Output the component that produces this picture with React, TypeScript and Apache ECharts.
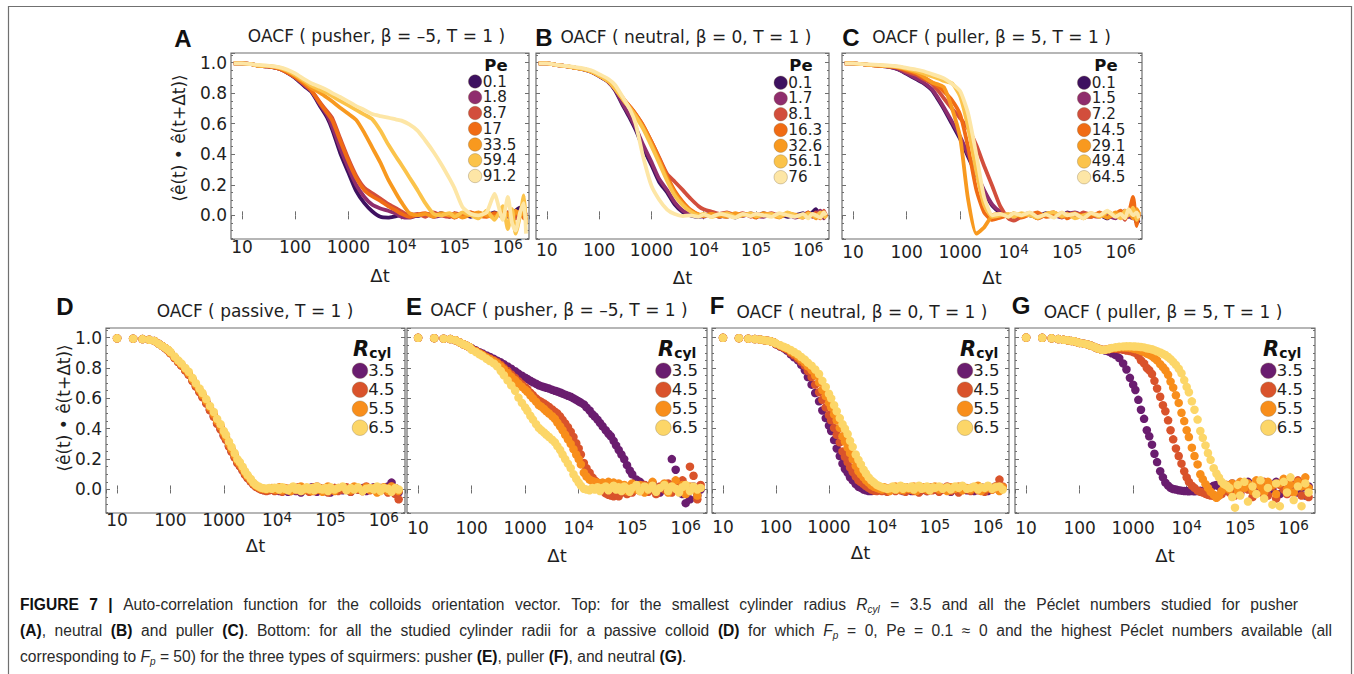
import React, { useEffect, useRef } from "react";
import * as echarts from "echarts";

// ---------- sample times ----------
const TIMES_TOP = [7, 10, 15, 20, 30, 50, 70, 100, 150, 200, 300, 400, 500, 700, 1000, 1400, 2000, 2800, 4000, 5600, 8000, 10000, 14000, 20000, 28000, 40000, 56000, 80000, 100000, 140000, 200000, 280000, 400000, 560000, 800000, 1000000, 1200000, 1400000, 1700000, 2000000, 2200000];
const TIMES_BOTTOM = [10, 20, 30, 40, 50, 60, 70, 80, 90, 100, 120, 140, 160, 190, 220, 260, 300, 350, 400, 470, 550, 650, 750, 870, 1000, 1100, 1250, 1400, 1600, 1800, 2000, 2250, 2500, 2800, 3200, 3600, 4000, 4500, 5000, 5600, 6300, 7100, 8000, 9000, 10000, 11000, 12500, 14000, 16000, 18000, 20000, 22500, 25000, 28000, 32000, 36000, 40000, 45000, 50000, 56000, 63000, 71000, 80000, 90000, 100000, 120000, 140000, 170000, 200000, 240000, 280000, 330000, 400000, 470000, 550000, 650000, 750000, 870000, 1000000, 1200000, 1400000, 1650000, 1900000];

// ---------- legend labels ----------
const PE_A = ["0.1", "1.8", "8.7", "17", "33.5", "59.4", "91.2"];
const PE_B = ["0.1", "1.7", "8.1", "16.3", "32.6", "56.1", "76"];
const PE_C = ["0.1", "1.5", "7.2", "14.5", "29.1", "49.4", "64.5"];
const RCYL = ["3.5", "4.5", "5.5", "6.5"];

// ---------- panel A : pusher ----------
const A_01 = [.995,.995,.99,.98,.975,.96,.935,.90,.845,.81,.71,.64,.56,.41,.28,.16,.08,.027,-.01,-.015,-.005,0,.01,-.005,.01,0,.015,-.01,.005,.01,-.01,.015,0,.02,-.01,.02,0,.03,.05,.01,.02];
const A_18 = [.995,.995,.99,.98,.975,.96,.937,.905,.85,.815,.72,.655,.58,.44,.31,.20,.12,.07,.045,.03,.01,-.01,-.015,0,.01,-.01,0,.01,-.005,.015,0,-.01,.01,0,.02,-.01,.02,0,.03,-.01,.02];
const A_87 = [.995,.995,.99,.98,.975,.96,.937,.905,.86,.82,.735,.68,.635,.505,.37,.26,.18,.145,.11,.075,.045,.025,0,.01,-.01,.02,0,-.01,.015,0,.02,-.005,.01,-.01,.02,0,.01,-.02,.02,0,-.01];
const A_17 = [.995,.995,.99,.98,.975,.96,.937,.905,.858,.818,.73,.67,.62,.49,.355,.245,.165,.125,.095,.06,.03,.01,-.01,.005,.015,-.005,.01,0,-.015,.01,.02,0,-.01,.015,0,.02,-.01,.01,.025,-.02,.01];
const A_335 = [.995,.995,.99,.98,.978,.965,.945,.915,.87,.835,.80,.77,.745,.705,.665,.625,.54,.445,.345,.235,.14,.085,.015,0,.01,-.01,.015,0,.01,-.015,.005,.02,0,-.01,.02,.005,-.02,.03,0,.02,-.03];
const A_594 = [.995,.995,.99,.98,.978,.967,.948,.92,.88,.85,.82,.80,.78,.75,.72,.69,.66,.63,.555,.465,.38,.33,.25,.165,.08,.01,0,.015,-.01,.02,0,-.02,.03,-.03,.06,-.09,.04,-.12,0,.13,-.06];
const A_912 = [.995,.995,.99,.985,.98,.97,.955,.93,.89,.865,.84,.82,.80,.775,.745,.715,.69,.663,.65,.64,.627,.62,.595,.555,.49,.415,.335,.24,.175,.055,.01,0,.02,.14,-.03,.12,-.05,-.1,.02,.08,-.12];

// ---------- panel B : neutral ----------
const B_01 = [.995,.995,.985,.98,.97,.955,.94,.912,.873,.82,.705,.627,.56,.44,.33,.22,.15,.07,.02,0,-.01,0,.01,-.01,.005,-.015,.01,0,-.01,.015,-.005,.01,-.01,0,.015,-.01,.02,.04,-.01,.02,0];
const B_17 = [.995,.995,.985,.98,.97,.955,.94,.913,.875,.825,.715,.64,.575,.46,.35,.24,.165,.085,.03,.005,-.005,-.01,.01,0,-.01,.01,-.005,.015,0,-.01,.01,0,.01,-.015,0,.02,-.01,.01,.03,-.02,.01];
const B_81 = [.995,.995,.985,.98,.97,.957,.942,.915,.878,.834,.757,.706,.663,.586,.483,.38,.27,.22,.165,.11,.06,.04,.025,.01,.02,0,.015,-.01,.01,0,.015,-.01,.01,0,-.015,.01,0,.02,-.01,.03,-.01];
const B_163 = [.995,.995,.985,.98,.97,.957,.942,.915,.878,.834,.757,.706,.663,.586,.483,.376,.256,.16,.088,.036,.006,0,.01,-.01,.015,-.005,.01,0,-.015,.01,.005,-.01,.015,0,-.01,.02,-.005,.01,-.02,.015,0];
const B_326 = [.995,.995,.985,.98,.97,.957,.942,.915,.878,.832,.752,.70,.655,.575,.47,.36,.24,.145,.075,.03,.005,-.005,.01,0,-.01,.015,0,.01,-.01,.015,0,-.015,.01,.005,-.01,.015,0,-.02,.01,.02,-.01];
const B_561 = [.995,.995,.985,.98,.97,.957,.942,.915,.877,.83,.748,.695,.648,.565,.455,.345,.225,.13,.065,.025,0,.01,-.01,.005,.015,-.01,0,.015,-.005,0,.01,-.01,.02,0,-.015,.01,.005,-.01,.02,0,-.02];
const B_76 = [.995,.995,.985,.98,.974,.963,.95,.925,.893,.855,.76,.685,.60,.38,.194,.104,.038,.008,-.005,0,-.01,.005,-.01,.01,0,-.015,.01,-.005,.01,0,-.01,.015,0,-.01,.01,-.02,.01,0,-.015,.02,0];

// ---------- panel C : puller ----------
const C_01 = [.995,.995,.99,.985,.98,.97,.955,.926,.892,.868,.818,.75,.694,.60,.50,.386,.266,.157,.062,.02,0,-.005,.01,0,-.01,.015,0,-.01,.02,0,-.015,.01,.005,-.02,.015,0,.02,-.01,.01,-.05,-.03];
const C_15 = [.995,.995,.99,.985,.98,.97,.957,.93,.897,.873,.825,.76,.705,.615,.515,.40,.28,.165,.07,.025,0,-.01,.005,.015,-.005,0,.01,-.015,.005,.02,0,-.01,.015,0,-.02,.01,.03,0,-.02,.01,0];
const C_72 = [.995,.995,.99,.985,.98,.975,.965,.94,.92,.895,.86,.81,.765,.70,.636,.57,.46,.325,.19,.06,-.02,-.035,-.01,.01,-.02,.005,.02,-.01,.015,-.015,.02,0,-.01,.025,-.005,.015,-.03,.02,0,.03,-.01];
const C_145 = [.995,.995,.99,.985,.98,.975,.967,.95,.93,.905,.87,.84,.81,.755,.66,.45,.17,.02,-.03,-.015,0,.01,-.015,.005,.02,-.01,0,.015,-.02,.01,0,-.01,.02,-.015,.01,.03,-.02,.01,.12,-.07,.02];
const C_291 = [.995,.995,.99,.985,.98,.975,.968,.955,.935,.912,.87,.855,.838,.704,.51,.11,-.12,-.08,0,.01,-.01,.015,-.005,.01,-.02,.01,.02,-.01,0,.015,-.02,.01,.005,-.015,.02,0,-.01,.03,-.02,.04,.01];
const C_494 = [.995,.995,.99,.987,.983,.978,.972,.96,.945,.93,.91,.895,.88,.865,.78,.58,.29,.07,-.01,0,.01,-.01,.015,0,-.015,.01,.02,-.005,.01,-.02,0,.015,-.01,.02,0,-.02,.03,0,.05,-.03,.02];
const C_645 = [.995,.995,.99,.988,.985,.98,.975,.965,.955,.945,.925,.91,.897,.862,.813,.67,.40,.12,0,.01,-.01,.015,0,.02,-.01,.005,-.015,.02,0,.01,-.02,.015,0,.03,-.01,.01,-.02,.04,0,.02,-.02];

// ---------- panel D : passive ----------
const D_35 = [.995,.993,.99,.986,.978,.96,.945,.93,.916,.898,.867,.84,.818,.786,.758,.717,.681,.645,.612,.571,.526,.483,.437,.40,.357,.33,.287,.252,.214,.178,.156,.128,.10,.077,.054,.034,.02,.01,.002,-.004,-.008,-.003,.002,-.008,0,-.01,.01,-.005,-.015,.005,0,-.01,.01,-.02,.005,0,-.01,.015,-.005,-.015,.01,0,-.01,.005,-.02,.01,0,-.005,.01,-.015,.005,0,.01,-.01,.005,.015,-.005,.01,0,.02,.045,.01,-.02];
const D_45 = [.995,.993,.99,.986,.978,.96,.945,.93,.915,.897,.865,.838,.815,.783,.755,.713,.677,.64,.607,.566,.521,.478,.432,.395,.352,.326,.282,.248,.21,.174,.153,.126,.097,.075,.052,.032,.018,.008,0,-.005,-.01,-.005,0,-.01,-.005,.01,-.015,0,.005,-.01,.01,-.005,.015,-.01,0,.01,-.015,.005,-.01,.02,0,-.01,.01,-.02,.005,.01,-.01,0,.015,-.015,.01,0,-.01,.02,-.005,.01,-.015,.005,.01,-.02,.02,-.03,-.065];
const D_55 = [.995,.993,.99,.986,.978,.96,.945,.932,.918,.9,.87,.845,.823,.792,.765,.725,.69,.655,.623,.583,.54,.497,.452,.415,.372,.345,.30,.266,.227,.19,.168,.14,.11,.086,.062,.04,.025,.015,.008,.004,0,.005,.01,0,0,.015,-.005,.01,0,-.01,.015,.005,0,.02,-.005,.01,.005,-.01,.015,0,.01,-.015,.005,.02,0,-.01,.01,.015,0,-.005,.02,.005,-.01,.015,0,.01,-.02,.005,.015,-.01,.02,.005,-.01];
const D_65 = [.995,.993,.99,.986,.978,.96,.945,.932,.92,.905,.875,.85,.83,.80,.775,.735,.70,.665,.635,.595,.55,.51,.465,.43,.385,.36,.315,.28,.24,.20,.18,.15,.12,.095,.07,.045,.03,.02,.012,.008,.005,.01,.005,.012,.01,0,.015,.005,-.005,.01,.02,0,.01,-.01,.005,.015,0,.01,-.005,.02,.005,0,.01,-.01,.015,0,.01,.02,-.005,.01,0,.015,-.01,.005,.01,0,.02,-.01,.01,.005,-.015,.01,0];

// ---------- panel E : pusher, all radii ----------
const E_35 = [.998,.996,.993,.99,.982,.968,.956,.947,.938,.93,.916,.904,.895,.882,.872,.86,.848,.837,.825,.81,.795,.779,.763,.749,.736,.728,.716,.706,.696,.686,.68,.674,.669,.664,.656,.65,.645,.638,.631,.624,.617,.61,.60,.59,.58,.572,.56,.54,.52,.496,.48,.46,.438,.416,.39,.367,.35,.32,.29,.26,.23,.20,.16,.125,.10,.065,.05,.03,.02,.04,.01,-.02,.03,-.01,.20,.13,.01,-.03,-.09,-.065,.02,-.04,0];
const E_45 = [.998,.996,.993,.99,.982,.968,.956,.947,.938,.925,.912,.898,.888,.873,.862,.85,.838,.82,.80,.78,.757,.735,.713,.692,.673,.66,.637,.62,.60,.585,.577,.566,.555,.543,.527,.512,.50,.48,.458,.435,.41,.38,.345,.305,.27,.23,.175,.14,.11,.08,.06,.045,.02,-.01,-.025,-.035,-.04,-.045,-.03,-.045,-.02,0,-.03,.01,-.02,.02,-.01,.03,-.015,.01,-.03,.02,0,.04,-.02,.03,.01,.06,-.01,.15,.09,-.065,.03];
const E_55 = [.998,.996,.993,.99,.982,.968,.956,.947,.938,.925,.91,.895,.885,.868,.857,.844,.83,.81,.79,.767,.743,.72,.697,.676,.657,.643,.62,.60,.578,.555,.545,.53,.514,.50,.482,.465,.44,.415,.39,.36,.33,.30,.265,.23,.20,.165,.11,.085,.065,.055,.05,.045,.04,.045,.035,.05,.03,.045,.02,.04,.01,.03,-.01,.02,.04,0,.03,-.02,.02,.05,-.01,.01,.04,-.02,.02,.06,0,.03,-.03,.02,0,-.04,.01];
const E_65 = [.998,.996,.993,.99,.982,.968,.956,.947,.938,.92,.905,.89,.878,.86,.845,.83,.81,.78,.752,.718,.685,.65,.605,.57,.54,.518,.485,.46,.43,.405,.39,.375,.36,.345,.327,.31,.285,.26,.23,.20,.17,.14,.10,.07,.045,.025,.005,0,-.005,.01,0,.015,-.01,.01,.02,-.005,.01,.025,0,.015,-.01,.02,.005,-.015,.01,.03,-.01,.02,0,.025,-.015,.01,.03,-.01,.02,.005,-.02,.015,.03,-.01,.02,0,.01];

// ---------- panel F : neutral, all radii ----------
const F_35 = [.998,.996,.993,.99,.987,.983,.979,.975,.97,.955,.94,.93,.915,.89,.87,.85,.82,.785,.74,.69,.635,.58,.52,.47,.42,.385,.325,.27,.22,.17,.135,.11,.08,.06,.035,.018,.01,0,-.005,-.01,-.01,-.005,0,.005,0,.01,-.01,.005,.015,-.005,.01,0,-.01,.015,.005,-.01,.01,0,.02,-.005,.01,-.01,.005,.015,0,-.01,.01,.005,-.015,.01,0,.02,-.005,.01,-.01,.005,.015,0,-.01,.01,.02,-.005,.01];
const F_45 = [.998,.996,.993,.99,.987,.983,.979,.975,.97,.957,.943,.933,.922,.90,.883,.862,.84,.815,.78,.74,.69,.64,.59,.54,.49,.455,.405,.36,.31,.25,.215,.18,.145,.115,.085,.06,.048,.035,.022,.01,0,-.008,-.01,-.005,-.01,.005,-.015,.01,0,-.01,.015,-.005,.01,-.015,0,.01,-.01,.005,-.02,.01,0,-.01,.015,-.005,.01,-.015,0,.02,-.01,.005,-.02,.01,0,-.01,.015,-.005,.01,-.015,.02,0,.01,.065,.02];
const F_55 = [.998,.996,.993,.99,.987,.983,.979,.975,.97,.96,.947,.937,.928,.91,.895,.875,.855,.835,.81,.785,.75,.705,.655,.615,.57,.54,.495,.455,.405,.35,.315,.275,.24,.20,.155,.12,.10,.08,.06,.045,.028,.018,.01,.005,0,.015,.005,-.01,.01,.02,0,.01,-.005,.015,.005,0,.02,-.01,.01,.005,.015,0,-.005,.01,.02,0,.01,-.01,.015,.005,.02,-.005,.01,0,.015,.025,-.01,.005,.01,0,.02,-.01,.015];
const F_65 = [.998,.996,.993,.99,.987,.983,.979,.975,.97,.962,.95,.94,.932,.918,.905,.89,.872,.855,.835,.815,.79,.76,.715,.675,.63,.60,.555,.515,.47,.43,.40,.365,.32,.28,.23,.195,.165,.13,.105,.08,.06,.045,.03,.022,.015,.01,.005,.008,.02,0,.012,.025,.005,.015,.01,.02,0,.015,.025,.005,.01,.02,-.005,.015,.01,.02,.005,.015,0,.02,.01,.025,.005,.01,.02,0,.015,.01,.025,.005,.015,.02,0];

// ---------- panel G : puller, all radii ----------
const G_35 = [1.0,.998,.995,.99,.985,.982,.978,.975,.97,.965,.96,.955,.948,.938,.928,.92,.915,.908,.897,.885,.865,.83,.79,.735,.69,.655,.59,.525,.465,.39,.35,.295,.235,.18,.12,.08,.045,.025,.01,.003,0,-.005,-.008,-.01,-.01,-.012,-.01,-.012,-.01,-.008,-.01,-.005,0,.015,.025,.03,.02,0,.01,.03,-.01,.04,0,.02,-.02,.03,.05,-.01,.02,.04,-.02,.03,0,.05,-.03,.02,.04,-.01,.03,-.02,.01,-.04,.02];
const G_45 = [1.0,.998,.995,.99,.985,.982,.978,.975,.97,.965,.96,.955,.948,.938,.928,.92,.92,.925,.928,.926,.923,.92,.915,.911,.905,.90,.88,.85,.83,.80,.785,.76,.715,.665,.61,.555,.515,.455,.39,.33,.27,.22,.17,.12,.08,.05,.025,.01,-.008,-.015,-.02,-.028,-.035,-.04,-.042,-.045,-.04,-.03,-.01,.01,-.02,.03,-.04,.02,-.03,.04,0,-.05,.03,-.02,.05,-.04,.02,-.06,.03,0,-.03,.04,-.02,.06,-.04,.02,-.05];
const G_55 = [1.0,.998,.995,.99,.985,.982,.978,.975,.97,.965,.96,.955,.948,.938,.928,.92,.92,.925,.93,.932,.934,.935,.934,.932,.928,.925,.92,.912,.905,.895,.888,.878,.865,.85,.825,.805,.785,.755,.71,.67,.62,.57,.505,.45,.39,.345,.275,.22,.165,.10,.068,.035,.01,-.015,-.035,-.055,-.04,-.01,.015,.03,0,.04,.02,-.02,.05,.01,.04,-.01,.06,.02,-.02,.05,.03,-.03,.04,.07,0,.03,-.02,.05,.02,.08,.01];
const G_65 = [1.0,.998,.995,.99,.985,.982,.978,.975,.97,.965,.96,.955,.948,.938,.928,.92,.92,.925,.932,.936,.94,.942,.943,.943,.942,.941,.94,.938,.935,.93,.927,.923,.917,.91,.902,.893,.885,.872,.858,.84,.82,.795,.765,.72,.675,.64,.58,.525,.46,.385,.34,.29,.24,.195,.14,.105,.08,.05,.035,.025,.01,-.05,-.12,.03,-.04,.05,-.08,.02,-.03,.06,-.06,.01,-.1,.04,-.11,.05,-.02,.08,-.07,.02,-.11,.04,-.02];

// ---------- texts ----------
const PANEL_LETTERS = ["A", "B", "C", "D", "E", "F", "G"];
const PANEL_TITLES = [
  "OACF ( pusher, β = –5, T = 1 )",
  "OACF ( neutral, β = 0, T = 1 )",
  "OACF ( puller, β = 5, T = 1 )",
  "OACF ( passive, T = 1 )",
  "OACF ( pusher, β = –5, T = 1 )",
  "OACF ( neutral, β = 0, T = 1 )",
  "OACF ( puller, β = 5, T = 1 )",
];
const Y_TITLE = "⟨ê(t) • ê(t+Δt)⟩";
const X_TITLE = "Δt";
// caption: [style, text] segments; n normal, b bold, i italic, si italic subscript
const CAPTION_1 = [["b", "FIGURE 7 |"], ["n", " Auto-correlation function for the colloids orientation vector. Top: for the smallest cylinder radius "], ["i", "R"], ["si", "cyl"], ["n", " = 3.5 and all the Péclet numbers studied for pusher"]];
const CAPTION_2 = [["b", "(A)"], ["n", ", neutral "], ["b", "(B)"], ["n", " and puller "], ["b", "(C)"], ["n", ". Bottom: for all the studied cylinder radii for a passive colloid "], ["b", "(D)"], ["n", " for which "], ["i", "F"], ["si", "p"], ["n", " = 0, Pe = 0.1 ≈ 0 and the highest Péclet numbers available (all"]];
const CAPTION_3 = [["n", "corresponding to "], ["i", "F"], ["si", "p"], ["n", " = 50) for the three types of squirmers: pusher "], ["b", "(E)"], ["n", ", puller "], ["b", "(F)"], ["n", ", and neutral "], ["b", "(G)"], ["n", "."]];

const TOP_DATA = [
  { labels: PE_A, values: [A_01, A_18, A_87, A_17, A_335, A_594, A_912] },
  { labels: PE_B, values: [B_01, B_17, B_81, B_163, B_326, B_561, B_76] },
  { labels: PE_C, values: [C_01, C_15, C_72, C_145, C_291, C_494, C_645] },
];
const BOTTOM_DATA = [
  { labels: RCYL, values: [D_35, D_45, D_55, D_65] },
  { labels: RCYL, values: [E_35, E_45, E_55, E_65] },
  { labels: RCYL, values: [F_35, F_45, F_55, F_65] },
  { labels: RCYL, values: [G_35, G_45, G_55, G_65] },
];

// ---------- styles / layout ----------
const PE_COLORS = ["#3e1160", "#8f2d6d", "#d24e3c", "#f06b14", "#f8991f", "#fbc34a", "#fde6a6"];
const R_COLORS = ["#6a1d6f", "#d9532b", "#f88e1b", "#fcd668"];
const FONT = "'DejaVu Sans', sans-serif";
const CAP_FONT_NAME = "Liberation Sans";
const CAP_FONT = "'Liberation Sans', Arial, sans-serif";
const CAP_SIZE = 15.6;
const TXT = "#1e1e1e";
const FRAME = "#6e6e6e";
const X_MIN = 6.2;
const X_MAX = 2.5e6;
const Y_MIN = -0.155;
const Y_MAX = 1.063;

const LAYOUT = [
  { left: 231, top: 53, width: 298, height: 186, labelMargin: -2, nameGap: 27, yLabels: true },
  { left: 536, top: 53, width: 293, height: 186, labelMargin: 1, nameGap: 29, yLabels: false },
  { left: 842, top: 53, width: 300, height: 186, labelMargin: 3, nameGap: 29, yLabels: false },
  { left: 106, top: 328, width: 299, height: 185, labelMargin: -3, nameGap: 23, yLabels: true },
  { left: 407, top: 328, width: 300, height: 185, labelMargin: 5, nameGap: 33, yLabels: false },
  { left: 712, top: 328, width: 297, height: 185, labelMargin: 4, nameGap: 30, yLabels: false },
  { left: 1015, top: 328, width: 300, height: 185, labelMargin: 5, nameGap: 33, yLabels: false },
];
const TITLE_POS = [
  { lx: 183, ly: 38, tx: 376.5, ty: 36 },
  { lx: 544, ly: 37, tx: 686, ty: 37 },
  { lx: 851, ly: 37, tx: 991.5, ty: 37 },
  { lx: 65, ly: 306, tx: 255, ty: 311 },
  { lx: 414, ly: 306, tx: 559, ty: 310 },
  { lx: 717, ly: 305, tx: 862, ty: 312 },
  { lx: 1021, ly: 305, tx: 1163, ty: 312 },
];
const TOP_LEGEND_POS = [
  { textLeft: 482.7, firstY: 81.5, titleX: 496, titleY: 65 },
  { textLeft: 788.3, firstY: 82.7, titleX: 801, titleY: 65.5 },
  { textLeft: 1091.7, firstY: 82.7, titleX: 1106, titleY: 65.5 },
];
const BOTTOM_LEGEND_POS = [
  { textLeft: 368.3, titleLeft: 353 },
  { textLeft: 671.7, titleLeft: 658 },
  { textLeft: 973.3, titleLeft: 960 },
  { textLeft: 1276.7, titleLeft: 1263 },
];
const Y_TITLE_POS = [
  { x: 179, y: 138 },
  { x: 64, y: 408 },
];
const CAPTION_POS = [
  { segs: CAPTION_1, x: 20, y: 604, right: 1298 },
  { segs: CAPTION_2, x: 20, y: 630, right: 1332 },
  { segs: CAPTION_3, x: 20, y: 656, right: 0 },
];

function logLabel(value: number): string {
  const e = Math.log10(value);
  const r = Math.round(e);
  if (Math.abs(e - r) > 1e-6) return "";
  if (r <= 3) return "{b|" + Math.round(value) + "}";
  return "{b|10}{s|" + r + "}";
}

function captionText(segs: string[][], width: number) {
  const fonts: Record<string, string> = {
    n: `${CAP_SIZE}px "${CAP_FONT_NAME}"`,
    b: `bold ${CAP_SIZE}px "${CAP_FONT_NAME}"`,
    i: `italic ${CAP_SIZE}px "${CAP_FONT_NAME}"`,
    si: `italic 10px "${CAP_FONT_NAME}"`,
  };
  let ctx: CanvasRenderingContext2D | null = null;
  try {
    ctx = document.createElement("canvas").getContext("2d");
  } catch (e) {
    ctx = null;
  }
  const pieces: { st: string; p: string }[] = [];
  let natural = 0;
  let spaces = 0;
  segs.forEach(([st, txt]) => {
    txt.split(" ").forEach((p, j) => {
      if (j > 0) {
        pieces.push({ st: "sp", p: " " });
        spaces++;
      }
      if (p) {
        pieces.push({ st, p });
        if (ctx) {
          ctx.font = fonts[st];
          natural += ctx.measureText(p).width;
        }
      }
    });
  });
  let spaceW = CAP_SIZE * 0.278;
  if (ctx) {
    ctx.font = fonts.n;
    spaceW = ctx.measureText(" ").width;
    if (width > 0 && spaces > 0) spaceW = Math.max(spaceW, (width - natural) / spaces);
  }
  const text = pieces.map((x) => "{" + x.st + "|" + x.p + "}").join("");
  return { text, spaceW };
}

function buildOption() {
  const grid: any[] = [];
  const xAxis: any[] = [];
  const yAxis: any[] = [];
  const series: any[] = [];
  const graphic: any[] = [];

  const tick = { show: true, inside: true, length: 4, lineStyle: { color: FRAME, width: 1 } };

  LAYOUT.forEach((L, p) => {
    grid.push({
      left: L.left, top: L.top, width: L.width, height: L.height,
      show: true, borderColor: FRAME, borderWidth: 1.2, backgroundColor: "#ffffff",
    });
    xAxis.push({
      type: "log", logBase: 10, gridIndex: p, min: X_MIN, max: X_MAX, position: "bottom",
      axisLine: { show: false }, splitLine: { show: false }, axisTick: tick,
      axisLabel: {
        show: true, margin: L.labelMargin, formatter: logLabel, showMinLabel: false, showMaxLabel: false,
        rich: {
          b: { fontFamily: FONT, fontSize: 17, lineHeight: 20, color: TXT },
          s: { fontFamily: FONT, fontSize: 13.5, lineHeight: 11, verticalAlign: "top", color: TXT },
        },
      },
      name: X_TITLE, nameLocation: "middle", nameGap: L.nameGap,
      nameTextStyle: { fontFamily: FONT, fontSize: 18, color: TXT },
    });
    xAxis.push({
      type: "log", logBase: 10, gridIndex: p, min: X_MIN, max: X_MAX, position: "top",
      axisLine: { show: false }, splitLine: { show: false }, axisTick: tick, axisLabel: { show: false },
    });
    yAxis.push({
      type: "value", gridIndex: p, min: Y_MIN, max: Y_MAX, splitNumber: 5, position: "left",
      axisLine: { show: false }, splitLine: { show: false }, axisTick: tick,
      minorTick: { show: true, splitNumber: 4, length: 2, lineStyle: { color: FRAME } },
      axisLabel: {
        show: L.yLabels, margin: 4, showMinLabel: false, showMaxLabel: false,
        formatter: (v: number) => v.toFixed(1),
        fontFamily: FONT, fontSize: 17, color: TXT,
      },
    });
    yAxis.push({
      type: "value", gridIndex: p, min: Y_MIN, max: Y_MAX, splitNumber: 5, position: "right",
      axisLine: { show: false }, splitLine: { show: false }, axisTick: tick,
      minorTick: { show: true, splitNumber: 4, length: 2, lineStyle: { color: FRAME } },
      axisLabel: { show: false },
    });

    graphic.push({
      type: "text", x: TITLE_POS[p].lx, y: TITLE_POS[p].ly, silent: true,
      style: {
        text: PANEL_LETTERS[p], fill: "#111", fontFamily: "'Liberation Sans', Arial, sans-serif",
        fontWeight: "bold", fontSize: 24, align: "center", verticalAlign: "middle",
        textAlign: "center", textVerticalAlign: "middle",
      },
    });
    graphic.push({
      type: "text", x: TITLE_POS[p].tx, y: TITLE_POS[p].ty, silent: true,
      style: {
        text: PANEL_TITLES[p], fill: TXT, fontFamily: FONT, fontSize: 17,
        align: "center", verticalAlign: "middle", textAlign: "center", textVerticalAlign: "middle",
      },
    });
  });

  // top series (lines)
  TOP_DATA.forEach((panel, p) => {
    panel.values.forEach((vals, k) => {
      series.push({
        type: "line", name: panel.labels[k], xAxisIndex: 2 * p, yAxisIndex: 2 * p,
        data: TIMES_TOP.map((t, i) => [t, vals[i]]),
        showSymbol: false, symbol: "none", smooth: 0.2, silent: true, z: 2 + k,
        lineStyle: { width: 3.8, color: PE_COLORS[k] }, itemStyle: { color: PE_COLORS[k] },
      });
    });
    const pos = TOP_LEGEND_POS[p];
    graphic.push({
      type: "text", x: pos.titleX, y: pos.titleY, silent: true,
      style: {
        text: "Pe", fill: "#111", fontFamily: FONT, fontWeight: "bold", fontSize: 16.5,
        align: "center", verticalAlign: "middle", textAlign: "center", textVerticalAlign: "middle",
      },
    });
    panel.labels.forEach((lab, k) => {
      const cy = pos.firstY + k * 15.75;
      graphic.push({
        type: "circle", silent: true, z: 10,
        shape: { cx: pos.textLeft - 7.6, cy, r: 6.7 },
        style: { fill: PE_COLORS[k], stroke: "rgba(120,100,60,0.45)", lineWidth: 0.7 },
      });
      graphic.push({
        type: "text", x: pos.textLeft, y: cy, silent: true, z: 10,
        style: {
          text: lab, fill: TXT, fontFamily: FONT, fontSize: 15.2,
          align: "left", verticalAlign: "middle", textAlign: "left", textVerticalAlign: "middle",
        },
      });
    });
  });

  // bottom series (dots)
  BOTTOM_DATA.forEach((panel, q) => {
    const p = q + 3;
    panel.values.forEach((vals, k) => {
      series.push({
        type: "scatter", name: panel.labels[k], xAxisIndex: 2 * p, yAxisIndex: 2 * p,
        data: TIMES_BOTTOM.map((t, i) => [t, vals[i]]),
        symbol: "circle", symbolSize: 8.5, silent: true, z: 2 + k,
        itemStyle: { color: R_COLORS[k], opacity: 1 },
      });
    });
    const pos = BOTTOM_LEGEND_POS[q];
    graphic.push({
      type: "text", x: pos.titleLeft, y: 349, silent: true,
      style: {
        text: "{R|R}{s|cyl}", fill: "#111", fontFamily: FONT,
        align: "left", verticalAlign: "middle", textAlign: "left", textVerticalAlign: "middle",
        rich: {
          R: { fontFamily: FONT, fontWeight: "bold", fontStyle: "italic", fontSize: 21, lineHeight: 22, fill: "#111", color: "#111" },
          s: { fontFamily: FONT, fontWeight: "bold", fontSize: 14, lineHeight: 11, verticalAlign: "bottom", fill: "#111", color: "#111" },
        },
      },
    });
    panel.labels.forEach((lab, k) => {
      const cy = 370.7 + k * 19;
      graphic.push({
        type: "circle", silent: true, z: 10,
        shape: { cx: pos.textLeft - 8.3, cy, r: 7.8 },
        style: { fill: R_COLORS[k], stroke: "rgba(120,100,60,0.45)", lineWidth: 0.7 },
      });
      graphic.push({
        type: "text", x: pos.textLeft, y: cy, silent: true, z: 10,
        style: {
          text: lab, fill: TXT, fontFamily: FONT, fontSize: 16.5,
          align: "left", verticalAlign: "middle", textAlign: "left", textVerticalAlign: "middle",
        },
      });
    });
  });

  // y titles
  Y_TITLE_POS.forEach((pt) => {
    graphic.push({
      type: "text", x: pt.x, y: pt.y, rotation: Math.PI / 2, silent: true,
      style: {
        text: Y_TITLE, fill: TXT, fontFamily: FONT, fontSize: 17,
        align: "center", verticalAlign: "middle", textAlign: "center", textVerticalAlign: "middle",
      },
    });
  });

  // outer frame
  graphic.push({
    type: "rect", silent: true, z: 0,
    shape: { x: 8.5, y: 6.5, width: 1343, height: 700 },
    style: { fill: "none", stroke: "#707070", lineWidth: 1.2 },
  });

  // caption (first two lines justified to the reference's right edges)
  CAPTION_POS.forEach((c) => {
    const { text, spaceW } = captionText(c.segs, c.right > 0 ? c.right - c.x : 0);
    graphic.push({
      type: "text", x: c.x, y: c.y, silent: true,
      style: {
        text, fill: "#2a2a2a", fontFamily: CAP_FONT, fontSize: CAP_SIZE,
        align: "left", verticalAlign: "middle", textAlign: "left", textVerticalAlign: "middle",
        rich: {
          n: { fontFamily: CAP_FONT, fontSize: CAP_SIZE, lineHeight: 20, fill: "#2a2a2a", color: "#2a2a2a" },
          sp: { fontFamily: CAP_FONT, fontSize: CAP_SIZE, lineHeight: 20, width: spaceW },
          b: { fontFamily: CAP_FONT, fontSize: CAP_SIZE, fontWeight: "bold", lineHeight: 20, fill: "#111", color: "#111" },
          i: { fontFamily: CAP_FONT, fontSize: CAP_SIZE, fontStyle: "italic", lineHeight: 20, fill: "#2a2a2a", color: "#2a2a2a" },
          si: { fontFamily: CAP_FONT, fontSize: 10, fontStyle: "italic", lineHeight: 11, verticalAlign: "bottom", fill: "#2a2a2a", color: "#2a2a2a" },
        },
      },
    });
  });

  return {
    animation: false,
    backgroundColor: "#ffffff",
    textStyle: { fontFamily: FONT },
    grid, xAxis, yAxis, series, graphic,
  };
}

export default function App() {
  const ref = useRef<HTMLDivElement>(null);
  useEffect(() => {
    if (!ref.current) return;
    const chart = echarts.init(ref.current, undefined, { renderer: "svg" });
    chart.setOption(buildOption() as any);
    return () => chart.dispose();
  }, []);
  return (
    <div
      ref={ref}
      style={{ position: "fixed", left: 0, top: 0, width: 1354, height: 674, background: "#fff" }}
    />
  );
}
